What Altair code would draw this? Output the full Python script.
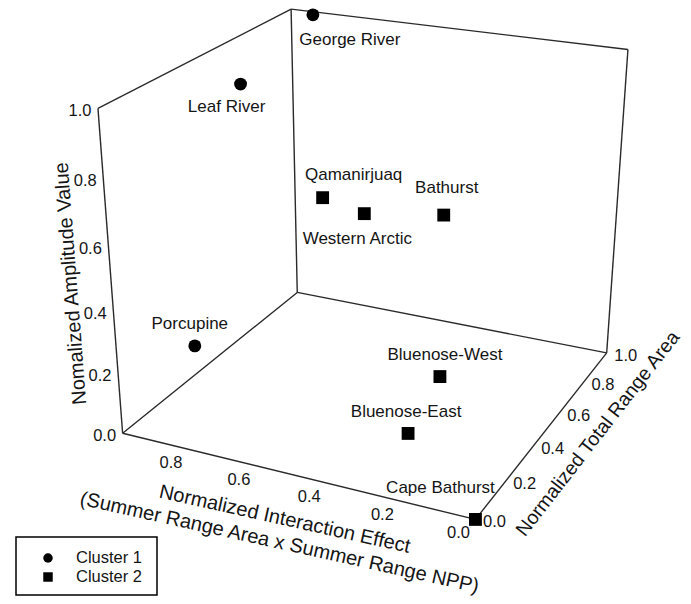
import numpy as np
import pandas as pd
import altair as alt

# ---------------- data ----------------
herds = ["George River", "Leaf River", "Porcupine", "Qamanirjuaq", "Western Arctic",
         "Bathurst", "Bluenose-West", "Bluenose-East", "Cape Bathurst"]
cluster = ["Cluster 1", "Cluster 1", "Cluster 1", "Cluster 2", "Cluster 2",
           "Cluster 2", "Cluster 2", "Cluster 2", "Cluster 2"]
interaction = [0.93, 0.89, 0.887, 0.78, 0.65, 0.41, 0.293, 0.255, 0.0]   # Normalized Interaction Effect
total_area = [1.00, 0.50, 0.20, 0.75, 0.75, 0.75, 0.465, 0.173, 0.0]     # Normalized Total Range Area
amplitude = [0.99, 0.925, 0.215, 0.49, 0.46, 0.50, 0.12, 0.10, 0.0]      # Normalized Amplitude Value

cluster_names = ["Cluster 1", "Cluster 2"]
cluster_shapes = ["circle", "square"]

amp_ticks = [0.0, 0.2, 0.4, 0.6, 0.8, 1.0]
inter_ticks = [0.8, 0.6, 0.4, 0.2, 0.0]
area_ticks = [0.0, 0.2, 0.4, 0.6, 0.8, 1.0]

# ---------------- layout: 3-D view (camera fitted to the box corners on screen) ----------------
W, H, M = 691, 604, 8
cube_corners = [(1, 0, 0), (1, 0, 1), (1, 1, 1), (1, 1, 0), (0, 1, 1), (0, 1, 0), (0, 0, 0)]
corner_screen = [(123, 433), (98, 108), (291, 9), (297, 293), (628, 50), (607, 352), (475, 520)]

cx, cy, sc = 350.0, 300.0, 300.0
rows = []
for (X, Y, Z), (u, v) in zip(cube_corners, corner_screen):
    un, vn = (u - cx) / sc, (v - cy) / sc
    rows.append([X, Y, Z, 1, 0, 0, 0, 0, -un * X, -un * Y, -un * Z, -un])
    rows.append([0, 0, 0, 0, X, Y, Z, 1, -vn * X, -vn * Y, -vn * Z, -vn])
_, _, Vt = np.linalg.svd(np.array(rows, dtype=float))
P = Vt[-1].reshape(3, 4)


def proj(X, Y, Z):
    h = P @ np.array([X, Y, Z, 1.0])
    return h[0] / h[2] * sc + cx, h[1] / h[2] * sc + cy


FONT = "Liberation Sans"
INK = "#151515"

# box edges (left wall x=1, back wall t=1, floor z=0)
edges = [((1, 0, 0), (1, 0, 1)), ((1, 0, 1), (1, 1, 1)), ((1, 0, 0), (1, 1, 0)),
         ((1, 1, 0), (1, 1, 1)), ((1, 1, 1), (0, 1, 1)), ((0, 1, 1), (0, 1, 0)),
         ((1, 1, 0), (0, 1, 0)), ((0, 1, 0), (0, 0, 0)), ((0, 0, 0), (1, 0, 0))]
edge_rows = []
for a, b in edges:
    x1, y1 = proj(*a)
    x2, y2 = proj(*b)
    edge_rows.append({"x": x1, "y": y1, "x2": x2, "y2": y2})
edges_df = pd.DataFrame(edge_rows)

# points
pts = []
for h, c, xi, ta, am in zip(herds, cluster, interaction, total_area, amplitude):
    px, py = proj(xi, ta, am)
    pts.append({"herd": h, "cluster": c, "x": px, "y": py})
pts_df = pd.DataFrame(pts)

label_offsets = {"George River": (37, 25), "Leaf River": (-14, 23), "Porcupine": (-5, -22),
                 "Qamanirjuaq": (31, -23), "Western Arctic": (-7, 25), "Bathurst": (3, -27),
                 "Bluenose-West": (5, -22), "Bluenose-East": (-2, -21), "Cape Bathurst": (-35, -31)}
lab_df = pts_df.copy()
lab_df["x"] = [x + label_offsets[h][0] for x, h in zip(lab_df["x"], lab_df["herd"])]
lab_df["y"] = [y + label_offsets[h][1] for y, h in zip(lab_df["y"], lab_df["herd"])]

# tick labels
ticks = []
for v in amp_ticks:
    x, y = proj(1, 0, v)
    ticks.append({"x": x - 18, "y": y + 3, "t": f"{v:.1f}"})
for v in inter_ticks:
    x, y = proj(v, 0, 0)
    ticks.append({"x": x - 17, "y": y + 14, "t": f"{v:.1f}"})
for v in area_ticks:
    x, y = proj(0, v, 0)
    ticks.append({"x": x + 19, "y": y + 3, "t": f"{v:.1f}"})
ticks_df = pd.DataFrame(ticks)

# axis titles (anchored to projected edge midpoints)
ax1 = proj(1, 0, 0.5)
ax2 = proj(0.5, 0, 0)
ax3 = proj(0, 0.5, 0)
titles = [
    {"x": ax1[0] - 40, "y": ax1[1] + 5, "t": "Nomalized Amplitude Value", "a": 265.6, "s": 20},
    {"x": ax2[0] - 6, "y": ax2[1] + 45, "t": "Normalized Interaction Effect\n(Summer Range Area x Summer Range NPP)", "a": 12.5, "s": 20},
    {"x": ax3[0] + 51, "y": ax3[1] + 5, "t": "Normalized Total Range Area", "a": 307.8, "s": 19.5},
]
titles_df = pd.DataFrame(titles)

# legend layout (box and entries, in page pixels)
legend_box = pd.DataFrame([{"x": 16, "y": 537, "x2": 157, "y2": 595}])
legend_df = pd.DataFrame({"cluster": cluster_names, "x": [48, 48], "y": [558, 577],
                          "tx": [76, 76]})

xs = alt.Scale(domain=[M, W - M])
ys = alt.Scale(domain=[M, H - M], reverse=True)
X = lambda f="x": alt.X(f"{f}:Q", scale=xs, axis=None)
Y = lambda f="y": alt.Y(f"{f}:Q", scale=ys, axis=None)
shape_scale = alt.Scale(domain=cluster_names, range=cluster_shapes)

frame = alt.Chart(edges_df).mark_rule(color="#2a2a2a", strokeWidth=1.4).encode(
    x=X(), y=Y(), x2="x2:Q", y2="y2:Q")

points = alt.Chart(pts_df).mark_point(filled=True, color="black", opacity=1, size=165).encode(
    x=X(), y=Y(), shape=alt.Shape("cluster:N", scale=shape_scale, legend=None))

labels = alt.Chart(lab_df).mark_text(font=FONT, fontSize=17, color=INK, align="center",
                                     baseline="middle").encode(x=X(), y=Y(), text="herd:N")

tick_text = alt.Chart(ticks_df).mark_text(font=FONT, fontSize=16.5, color=INK, align="center",
                                          baseline="middle").encode(x=X(), y=Y(), text="t:N")

title_layers = [
    alt.Chart(titles_df.iloc[[i]]).mark_text(font=FONT, fontSize=float(titles_df["s"][i]), color=INK,
                                             align="center", baseline="middle",
                                             angle=float(titles_df["a"][i]),
                                             lineBreak="\n", lineHeight=24).encode(
        x=X(), y=Y(), text="t:N")
    for i in range(len(titles_df))
]

leg_box = alt.Chart(legend_box).mark_rect(fill="white", stroke="black", strokeWidth=1.5).encode(
    x=X(), y=Y(), x2="x2:Q", y2="y2:Q")
leg_sym = alt.Chart(legend_df).mark_point(filled=True, color="black", opacity=1, size=90).encode(
    x=X(), y=Y(), shape=alt.Shape("cluster:N", scale=shape_scale, legend=None))
leg_txt = alt.Chart(legend_df).mark_text(font=FONT, fontSize=16.5, color=INK, align="left",
                                         baseline="middle").encode(
    x=X("tx"), y=Y(), text="cluster:N")

chart = alt.layer(frame, points, labels, tick_text, *title_layers, leg_box, leg_sym, leg_txt).properties(
    width=W - 2 * M, height=H - 2 * M, padding=0, autosize=alt.AutoSizeParams(type="none"),
    background="white"
).configure_view(stroke=None)

chart.save("out.html", embed_options={"renderer": "svg", "actions": False})
